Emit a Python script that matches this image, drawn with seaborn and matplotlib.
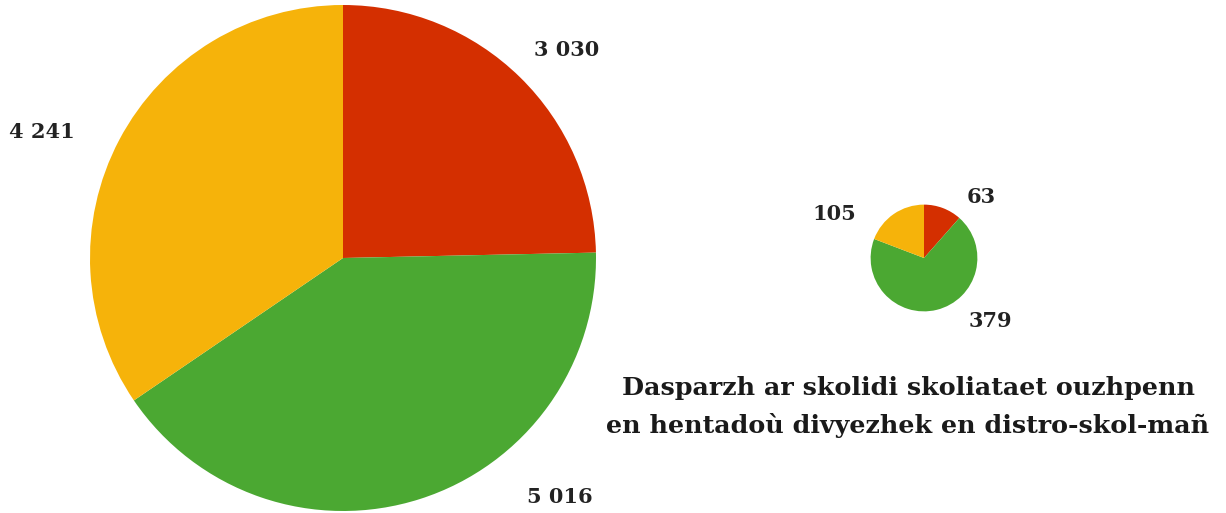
import matplotlib
matplotlib.use("Agg")
import matplotlib.pyplot as plt
import seaborn as sns
import numpy as np

# Data
categories = ["rouge", "vert", "jaune"]
big_values = [3030, 5016, 4241]
small_values = [63, 379, 105]
big_labels = ["3 030", "5 016", "4 241"]
small_labels = ["63", "379", "105"]
colors = ["#D42F00", "#4BA832", "#F6B30A"]
title_lines = ["Dasparzh ar skolidi skoliataet ouzhpenn",
               "en hentadoù divyezhek en distro-skol-mañ"]

sns.set_theme(style="white")
plt.rcParams['font.family'] = ['DejaVu Serif', 'DejaVu Sans']

W, H = 1226, 513
fig = plt.figure(figsize=(W / 100, H / 100), dpi=100)
ax = fig.add_axes([0, 0, 1, 1])
ax.set_xlim(0, W)
ax.set_ylim(0, H)
ax.set_aspect("equal")
ax.axis("off")

def py(y):
    return H - y

big_r = 253
small_r = big_r * np.sqrt(sum(small_values) / sum(big_values))

ax.pie(big_values, colors=colors, startangle=90, counterclock=False,
       center=(343, py(258)), radius=big_r, frame=True,
       wedgeprops=dict(linewidth=0))
ax.pie(small_values, colors=colors, startangle=90, counterclock=False,
       center=(924, py(258)), radius=small_r, frame=True,
       wedgeprops=dict(linewidth=0))
ax.set_xlim(0, W)
ax.set_ylim(0, H)
ax.axis("off")

lab_kw = dict(fontsize=15, fontweight="bold", color="#222222",
              ha="center", va="center")
big_pos = [(567, 50), (560, 497), (42, 132)]
small_pos = [(981, 197), (990, 321), (834, 214)]
for t, (x, y) in zip(big_labels, big_pos):
    ax.text(x, py(y), t, **lab_kw)
for t, (x, y) in zip(small_labels, small_pos):
    ax.text(x, py(y), t, **lab_kw)

ax.text(908, py(388), title_lines[0], fontsize=18.3, fontweight="bold",
        color="#1a1a1a", ha="center", va="center")
ax.text(908, py(425), title_lines[1], fontsize=18.3, fontweight="bold",
        color="#1a1a1a", ha="center", va="center")

fig.savefig("out.png", dpi=100)
